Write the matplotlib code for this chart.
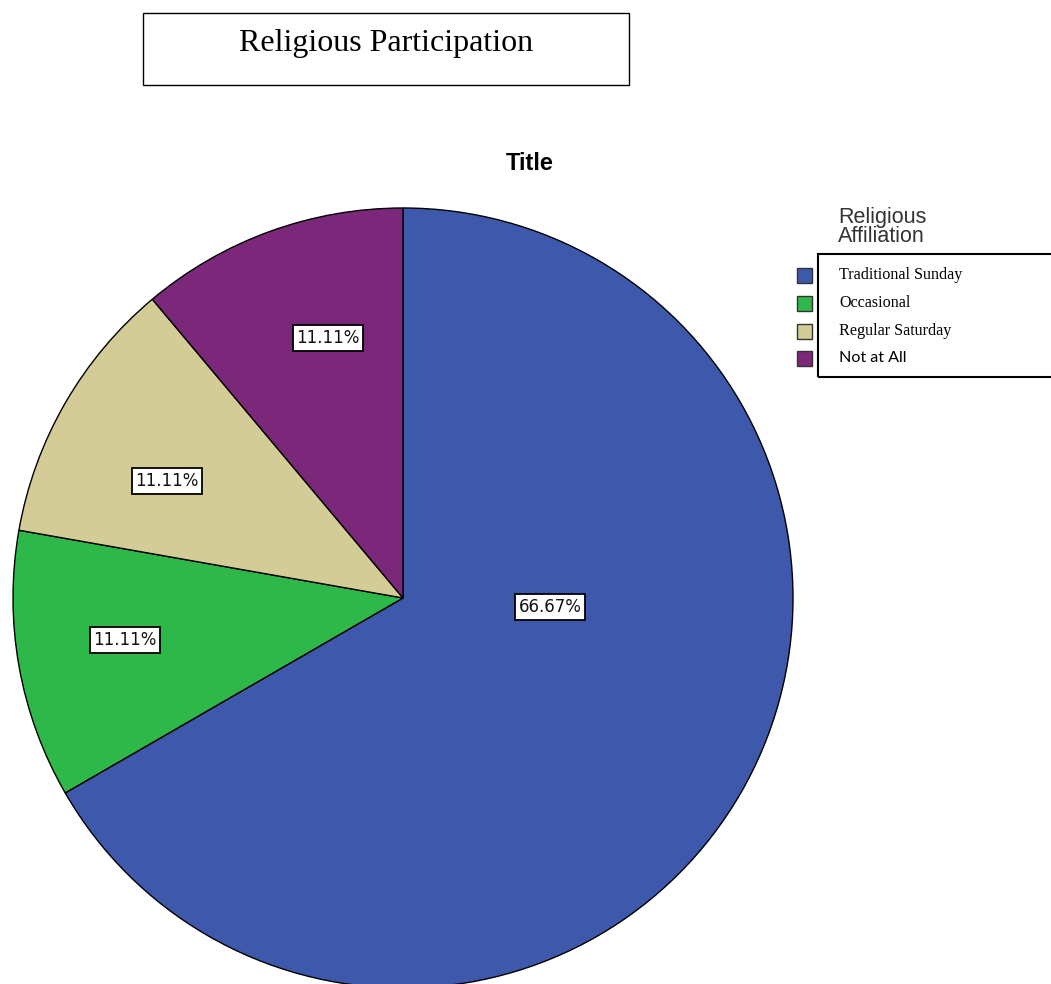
import matplotlib.pyplot as plt
from matplotlib.patches import Rectangle

# data
categories = ['Traditional Sunday', 'Occasional', 'Regular Saturday', 'Not at All']
shares = [66.67, 11.11, 11.11, 11.11]
colors = ['#3E58AC', '#2EB84A', '#D4CC97', '#7B287A']

# where SPSS put the percentage boxes (axis units, radius = 1)
label_pos = [(0.377, -0.023), (-0.713, -0.108), (-0.605, 0.300), (-0.192, 0.667)]

W, H = 1051, 984
fig = plt.figure(figsize=(W / 100, H / 100), dpi=100)
fig.patch.set_facecolor('white')

# pie axes: centre (403, 598) px, radius 390 px
cx, cy, r = 403, 598, 390
ax = fig.add_axes([(cx - r) / W, (H - cy - r) / H, 2 * r / W, 2 * r / H])
wedges, texts, autotexts = ax.pie(
    shares, colors=colors, startangle=90, counterclock=False,
    autopct='%.2f%%', wedgeprops=dict(edgecolor='black', linewidth=1),
    textprops=dict(fontsize=12, family='DejaVu Sans', color='#111111'))
ax.set_xlim(-1, 1)
ax.set_ylim(-1, 1)
ax.set_aspect('auto')
ax.axis('off')

for t, pos in zip(autotexts, label_pos):
    t.set_position(pos)
    t.set_ha('center')
    t.set_va('center')
    t.set_bbox(dict(facecolor='white', edgecolor='black', linewidth=1.3, boxstyle='square,pad=0.22'))

# chart title
fig.text(530 / W, 1 - 163 / H, 'Title', ha='center', va='center',
         fontsize=17, fontweight='bold', family='Liberation Sans')

# heading box at top
fig.add_artist(Rectangle((143 / W, 1 - 85 / H), (629 - 143) / W, (85 - 13) / H,
                         transform=fig.transFigure, facecolor='white',
                         edgecolor='black', linewidth=1))
fig.text(386 / W, 1 - 44 / H, 'Religious Participation', ha='center', va='center',
         fontsize=23, family='Liberation Serif')

# legend
fig.text(838 / W, 1 - 227 / H, 'Religious\nAffiliation', ha='left', va='center',
         fontsize=15.5, family='Liberation Sans', color='#333333', linespacing=0.9)
fig.add_artist(Rectangle((818 / W, 1 - 377 / H), 0.3, (377 - 254) / H,
                         transform=fig.transFigure, facecolor='none',
                         edgecolor='black', linewidth=1.5))
fonts = ['Liberation Serif', 'Liberation Serif', 'Liberation Serif', 'Lato']
for i, (cat, col) in enumerate(zip(categories, colors)):
    y = 275 + i * 27.8
    fig.add_artist(Rectangle((797 / W, 1 - (y + 8) / H), 15 / W, 15 / H,
                             transform=fig.transFigure, facecolor=col,
                             edgecolor='#333333', linewidth=1))
    fig.text(839 / W, 1 - y / H, cat, ha='left', va='center',
             fontsize=11.6, family=fonts[i])

fig.savefig('out.png', dpi=100)
